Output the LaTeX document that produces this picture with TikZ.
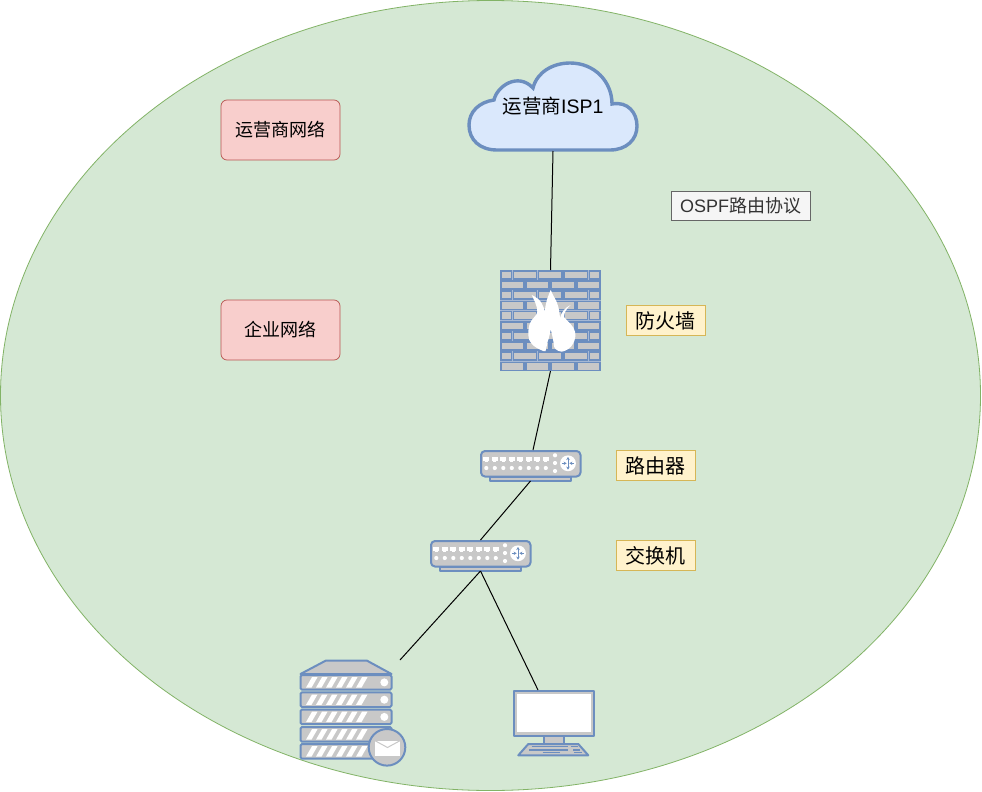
\documentclass[tikz,border=0pt]{standalone}
\usepackage{fontspec}
\setmainfont{Liberation Sans}
\newfontfamily\cjk{Noto Sans CJK SC}
\usepackage{tikz}
\usetikzlibrary{arrows.meta, positioning, shapes.geometric}
\definecolor{zonegreen}{HTML}{D5E8D4}
\definecolor{zoneline}{HTML}{82B366}
\definecolor{tagred}{HTML}{F8CECC}
\definecolor{tagline}{HTML}{B85450}
\definecolor{lblyellow}{HTML}{FFF2CC}
\definecolor{lblline}{HTML}{D6B656}
\definecolor{cloudblue}{HTML}{DAE8FC}
\definecolor{iconline}{HTML}{6C8EBF}
\definecolor{icongray}{HTML}{C8C8C8}
\definecolor{wallgap}{HTML}{A6B8D4}

\tikzset{
    slab/.style={draw=iconline, line width=2pt, line join=round, fill=icongray},
    brick/.style={draw=iconline, line width=1.7pt, fill=icongray},
    tip/.style={iconline, line width=1pt},
    % 101 x 31 network box, origin at top left
    netbox/.pic={
        \draw[slab] (10,26.5) rectangle (91,30.5);
        \draw[slab, rounded corners=4pt] (1,1) rectangle (100.5,26.5);
        \foreach \i in {0,...,7} {
            \fill[white] (6.3+8.5*\i-2.9,7) rectangle (6.3+8.5*\i+2.9,10.5);
            \fill[white] (6.3+8.5*\i-1.6,10.5) rectangle (6.3+8.5*\i+1.6,12.2);
            \fill[white] (6.3+8.5*\i,18) circle (2.1);
        }
        \foreach \j in {5.3,13,21} \fill[white] (75,\j) circle (2.1);
        \fill[white] (88,13.3) circle (7.9);
        \draw[tip, {Stealth[length=3pt,width=3.5pt]}-{Stealth[length=3pt,width=3.5pt]}] (88,7) -- (88,19.6);
        \draw[tip, -{Stealth[length=3pt,width=3.5pt]}] (81.8,13.3) -- (86.6,13.3);
        \draw[tip, -{Stealth[length=3pt,width=3.5pt]}] (94.2,13.3) -- (89.4,13.3);
    },
}

\begin{document}
\begin{tikzpicture}[
    x=1pt, y=-1pt,
    zone/.style={ellipse, draw=zoneline, fill=zonegreen, line width=0.8pt,
        minimum width=980pt, minimum height=790pt, inner sep=0pt},
    tag/.style={rectangle, rounded corners=6pt, draw=tagline, fill=tagred, line width=0.7pt,
        minimum width=119pt, minimum height=60pt, font=\fontsize{18}{20}\selectfont\cjk},
    lbl/.style={rectangle, draw=lblline, fill=lblyellow, line width=0.7pt,
        minimum width=79pt, minimum height=29.5pt, inner sep=0pt, font=\fontsize{20}{22}\selectfont\cjk},
    note/.style={rectangle, draw=black!60, fill=black!4, text=black!80, line width=0.7pt,
        minimum width=139pt, minimum height=29pt, inner sep=0pt, font=\fontsize{18}{20}\selectfont},
    spot/.style={rectangle, inner sep=0pt, outer sep=0pt},
    link/.style={draw=black, line width=1pt},
]
\useasboundingbox (0,0) rectangle (982,792);
\fill[white] (0,0) rectangle (982,792);

% Zone
\node[zone] (area) at (490.5,395.5) {};

% Tags and labels
\node[tag] (ispnet) at (280.5,130) {运营商网络};
\node[tag] (corpnet) at (280.5,330) {企业网络};
\node[note] (ospf) at (740.5,205.5) {OSPF{\cjk 路由协议}};
\node[lbl] (fwlbl) at (665.5,320.5) {防火墙};
\node[lbl] (rtlbl) at (655.5,465.5) {路由器};
\node[lbl] (swlbl) at (655.5,555.5) {交换机};

% Cloud
\draw[draw=iconline, fill=cloudblue, line width=3.4pt]
    (497,150) .. controls (480,150) and (469,140) .. (469,125)
    .. controls (469,112) and (479,102) .. (494,100)
    .. controls (497,86) and (518,72) .. (533,88)
    .. controls (537,72) and (553,63) .. (570,63)
    .. controls (595,63) and (612,82) .. (612,104)
    .. controls (628,101) and (637,113) .. (637,126)
    .. controls (637,140) and (626,150) .. (610,150) -- cycle;
\node[spot, minimum width=170pt, minimum height=89pt, font=\fontsize{19.5}{22}\selectfont] (isp) at (553,106.5) {{\cjk 运营商}ISP1};

% Firewall
\node[spot, minimum width=101pt, minimum height=101pt] (firewall) at (550.5,320.5) {};
\fill[wallgap] (500,270) rectangle (601,371);
\foreach \r in {0,2,4,6,8} {
    \foreach \a/\b in {500.9/511.5, 513.5/536.5, 538.5/562, 564.2/587.5, 589.5/600.1}
        \draw[brick] (\a,271+10.15*\r) rectangle (\b,279+10.15*\r);
    \foreach \a/\b in {500.9/523.8, 525.9/549.1, 551.2/574.8, 576.9/600.1}
        \draw[brick] (\a,281.15+10.15*\r) rectangle (\b,289.15+10.15*\r);
}
\fill[white] (543.3,351) .. controls (533,347) and (528.3,342) .. (528.3,335)
    .. controls (528,330) and (529,326) .. (530,323.3) .. controls (532,318) and (537,316) .. (537.3,311.7)
    .. controls (537.5,306) and (534,300) .. (531.7,295) .. controls (536,297) and (540,300) .. (541.7,303.3)
    .. controls (543,306) and (544.5,309) .. (545,311.7) .. controls (545,304) and (548,296) .. (550.7,290)
    .. controls (553,296) and (557,301) .. (558.3,306.7) .. controls (559,310) and (559.7,314) .. (560,318)
    .. controls (561,312) and (566,307) .. (570.7,305) .. controls (566,309) and (564,313) .. (564,317)
    .. controls (568,322) and (574,326) .. (575,331.7) .. controls (576,336) and (575,340) .. (573.3,343.3)
    .. controls (571,348) and (566,351) .. (561.7,351.7) .. controls (556,351) and (554,348) .. (553.8,345)
    .. controls (553.5,340) and (552,335) .. (550.7,329) .. controls (550,334) and (549,338) .. (547.8,341)
    .. controls (547,345) and (546,349) .. (545.5,351) -- cycle;

% Router and switch
\pic at (480,450) {netbox};
\pic at (430,540) {netbox};
\node[spot, minimum width=101pt, minimum height=31pt] (router) at (530.5,465.5) {};
\node[spot, minimum width=101pt, minimum height=31pt] (switch) at (480.5,555.5) {};

% Mail server
\node[spot, minimum width=100pt, minimum height=106pt] (mailsrv) at (350,713) {};
\draw[slab] (300.5,674) -- (326,660.5) -- (366.7,660.5) -- (391.5,674) -- cycle;
\foreach \t in {675,692.3,709.5,727,744} {
    \draw[slab, rounded corners=1.5pt] (300.5,\t) rectangle (391.5,\t+14.7);
    \foreach \i in {0,...,5}
        \fill[white] (306+10*\i,\t+12.6) -- (312+10*\i,\t+2.2) -- (317.5+10*\i,\t+2.2) -- (311.5+10*\i,\t+12.6) -- cycle;
    \fill[white] (384.3,\t+7.4) circle (4);
}
\draw[slab] (387,747.3) circle (18.3);
\fill[white] (375,740.7) rectangle (400,756);
\draw[icongray, line width=1pt] (375,740.7) -- (387.5,747.5) -- (400,740.7);

% Desktop
\node[spot, minimum width=81pt, minimum height=66pt] (desktop) at (553.8,723) {};
\draw[slab] (544,736) rectangle (564,744);
\draw[slab] (514,690.7) rectangle (594,736);
\fill[white] (516.5,693.5) rectangle (590.5,732.3);
\draw[slab] (528.3,744) -- (578.3,744) -- (588.3,755.3) -- (518.3,755.3) -- cycle;
\foreach \a/\b/\h in {531.7/568.3/746.7, 570.7/577.7/746.7, 529/568.3/750, 573.3/580/750, 542.7/560/752.7, 574.3/581.7/752.7}
    \draw[iconline, line width=1.3pt] (\a,\h) -- (\b,\h);

% Connectors
\coordinate (routertop) at (533,450);
\coordinate (desktoptop) at (538,690);
\draw[link] (isp.south) -- (firewall.north);
\draw[link] (firewall.south) -- (routertop);
\draw[link] (router.south) -- (switch.north);
\draw[link] (switch.south) -- (mailsrv.north east);
\draw[link] (switch.south) -- (desktoptop);
\end{tikzpicture}
\end{document}
